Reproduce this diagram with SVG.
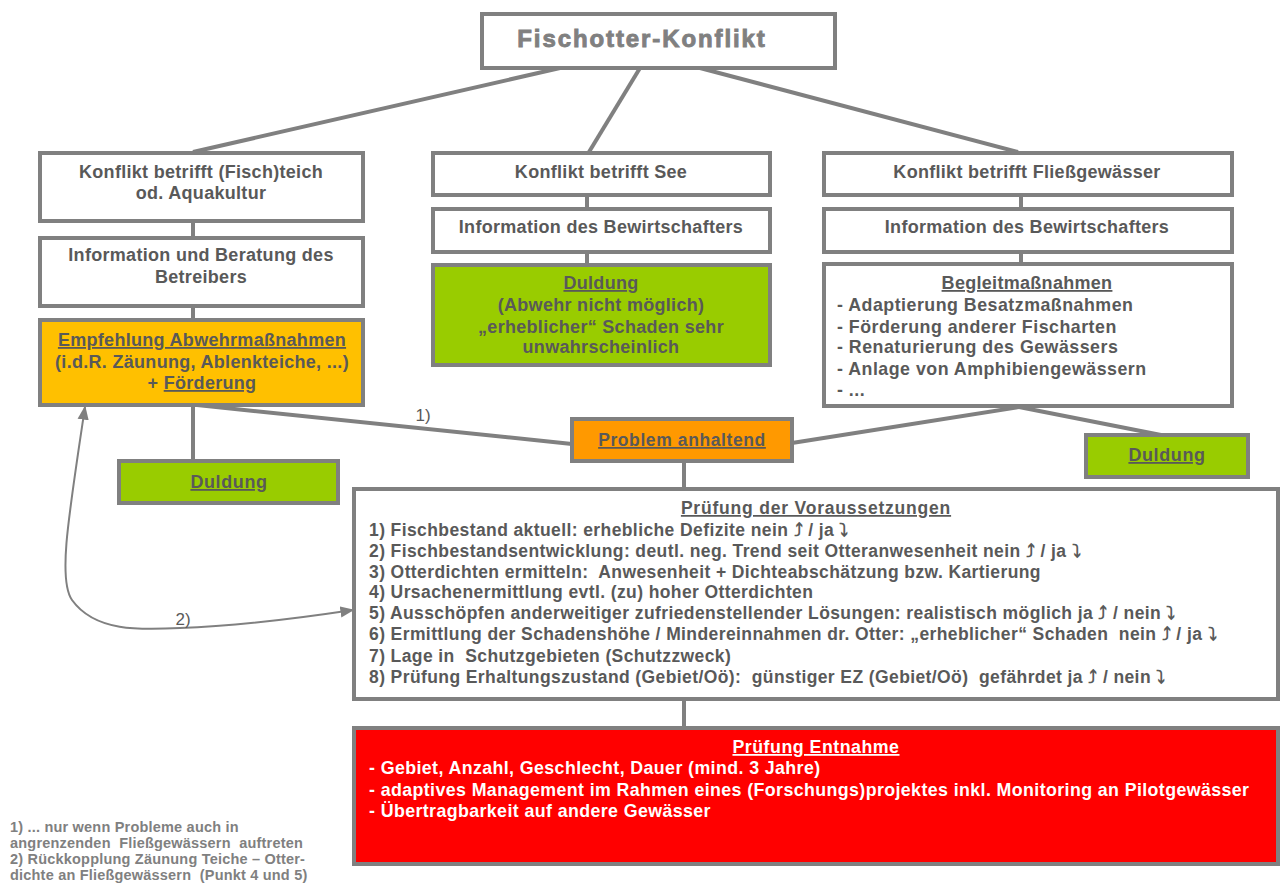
<svg xmlns="http://www.w3.org/2000/svg" width="1282" height="887" viewBox="0 0 1282 887">
<defs>
<style>
.box{stroke:#808080;stroke-width:4}
.w{fill:#ffffff}
.g{fill:#99cc00}
.y{fill:#ffc000}
.o{fill:#ff9900}
.r{fill:#ff0000}
text{font-family:"Liberation Sans",Arial,"DejaVu Sans",sans-serif;font-weight:bold;fill:#595959;white-space:pre}
.c{text-anchor:middle;font-size:18px;letter-spacing:0.3px}
.l{font-size:17.5px;letter-spacing:0.4px}
.bl{font-size:17.8px;letter-spacing:0.5px}
.rt{font-size:17.8px;letter-spacing:0.4px;fill:#ffffff}
.u{text-decoration:underline}
.con{stroke:#808080;stroke-width:4;fill:none}
.fn{font-size:14.5px;letter-spacing:0.2px;fill:#808080}
</style>
<marker id="ah2" viewBox="0 0 10 10" refX="9" refY="5" markerWidth="14" markerHeight="14" orient="auto-start-reverse" markerUnits="userSpaceOnUse">
<path d="M0,1 L10,5 L0,9 z" fill="#808080"/>
</marker>
</defs>

<g id="connectors">
<line class="con" x1="560" y1="68" x2="193" y2="152"/>
<line class="con" x1="640" y1="68" x2="589" y2="152"/>
<line class="con" x1="700" y1="68" x2="1018" y2="152"/>
<line class="con" x1="193" y1="222" x2="193" y2="237"/>
<line class="con" x1="193" y1="307" x2="193" y2="320"/>
<line class="con" x1="193" y1="405" x2="193" y2="461"/>
<line class="con" x1="587" y1="195" x2="587" y2="208"/>
<line class="con" x1="587" y1="252" x2="587" y2="264"/>
<line class="con" x1="1021" y1="195" x2="1021" y2="208"/>
<line class="con" x1="1021" y1="252" x2="1021" y2="263"/>
<line class="con" x1="197" y1="405" x2="572" y2="444"/>
<line class="con" x1="792" y1="443" x2="1019" y2="407"/>
<line class="con" x1="1019" y1="407" x2="1161" y2="435"/>
<line class="con" x1="684" y1="461" x2="684" y2="488"/>
<line class="con" x1="684" y1="699" x2="684" y2="727"/>
<path d="M85,407 C68,520 58,580 72,600 C95,632 140,630 180,628 C240,626 300,618 353,610" fill="none" stroke="#808080" stroke-width="2" marker-start="url(#ah2)" marker-end="url(#ah2)"/>
<text x="423" y="421" style="font-size:17px;font-weight:normal" text-anchor="middle">1)</text>
<text x="183" y="625" style="font-size:17px;font-weight:normal" text-anchor="middle">2)</text>
</g>

<g id="n-title">
<rect class="box w" x="482" y="14" width="353" height="54"/>
<text x="642" y="47" text-anchor="middle" style="font-size:24px;fill:#808080;stroke:#808080;stroke-width:0.9;letter-spacing:1.9px">Fischotter-Konflikt</text>
</g>

<g id="n-teich">
<rect class="box w" x="40" y="153" width="323" height="68"/>
<text class="c" x="201" y="178">Konflikt betrifft (Fisch)teich</text>
<text class="c" x="201" y="199">od. Aquakultur</text>
</g>

<g id="n-beratung">
<rect class="box w" x="40" y="238" width="323" height="68"/>
<text class="c" x="201" y="261">Information und Beratung des</text>
<text class="c" x="201" y="283">Betreibers</text>
</g>

<g id="n-empfehlung">
<rect class="box y" x="40" y="320" width="323" height="85"/>
<text class="c u" x="202" y="346">Empfehlung Abwehrmaßnahmen</text>
<text class="c" x="202" y="368">(i.d.R. Zäunung, Ablenkteiche, ...)</text>
<text class="c" x="202" y="389">+ <tspan class="u">Förderung</tspan></text>
</g>

<g id="n-duldung-links">
<rect class="box g" x="119" y="461" width="219" height="42"/>
<text class="c u" x="229" y="488" style="letter-spacing:0.6px">Duldung</text>
</g>

<g id="n-see">
<rect class="box w" x="433" y="153" width="337" height="42"/>
<text class="c" x="601" y="178">Konflikt betrifft See</text>
</g>

<g id="n-info-see">
<rect class="box w" x="433" y="209" width="337" height="43"/>
<text class="c" x="601" y="233">Information des Bewirtschafters</text>
</g>

<g id="n-duldung-see">
<rect class="box g" x="433" y="265" width="337" height="100"/>
<text class="c u" x="601" y="289">Duldung</text>
<text class="c" x="601" y="311">(Abwehr nicht möglich)</text>
<text class="c" x="601" y="333">„erheblicher“ Schaden sehr</text>
<text class="c" x="601" y="353">unwahrscheinlich</text>
</g>

<g id="n-fliess">
<rect class="box w" x="824" y="153" width="408" height="42"/>
<text class="c" x="1027" y="178">Konflikt betrifft Fließgewässer</text>
</g>

<g id="n-info-fliess">
<rect class="box w" x="824" y="209" width="408" height="43"/>
<text class="c" x="1027" y="233">Information des Bewirtschafters</text>
</g>

<g id="n-begleit">
<rect class="box w" x="824" y="264" width="408" height="142"/>
<text class="c u" x="1027" y="289">Begleitmaßnahmen</text>
<text class="bl" x="837" y="311">- Adaptierung Besatzmaßnahmen</text>
<text class="bl" x="837" y="333">- Förderung anderer Fischarten</text>
<text class="bl" x="837" y="353">- Renaturierung des Gewässers</text>
<text class="bl" x="837" y="375">- Anlage von Amphibiengewässern</text>
<text class="bl" x="837" y="396">- ...</text>
</g>

<g id="n-problem">
<rect class="box o" x="572" y="419" width="220" height="42"/>
<text class="c u" x="682" y="446" style="font-size:17.5px;letter-spacing:0.6px">Problem anhaltend</text>
</g>

<g id="n-duldung-rechts">
<rect class="box g" x="1086" y="435" width="162" height="42"/>
<text class="c u" x="1167" y="461" style="letter-spacing:0.6px">Duldung</text>
</g>

<g id="n-pruefung">
<rect class="box w" x="354" y="489" width="924" height="210"/>
<text class="c u" x="816" y="514" style="font-size:17.5px;letter-spacing:0.8px">Prüfung der Voraussetzungen</text>
<text class="l" x="369" y="536">1) Fischbestand aktuell: erhebliche Defizite nein ⤴ / ja ⤵</text>
<text class="l" x="369" y="557">2) Fischbestandsentwicklung: deutl. neg. Trend seit Otteranwesenheit nein ⤴ / ja ⤵</text>
<text class="l" x="369" y="578">3) Otterdichten ermitteln:  Anwesenheit + Dichteabschätzung bzw. Kartierung</text>
<text class="l" x="369" y="598">4) Ursachenermittlung evtl. (zu) hoher Otterdichten</text>
<text class="l" x="369" y="619">5) Ausschöpfen anderweitiger zufriedenstellender Lösungen: realistisch möglich ja ⤴ / nein ⤵</text>
<text class="l" x="369" y="640">6) Ermittlung der Schadenshöhe / Mindereinnahmen dr. Otter: „erheblicher“ Schaden  nein ⤴ / ja ⤵</text>
<text class="l" x="369" y="662">7) Lage in  Schutzgebieten (Schutzzweck)</text>
<text class="l" x="369" y="683">8) Prüfung Erhaltungszustand (Gebiet/Oö):  günstiger EZ (Gebiet/Oö)  gefährdet ja ⤴ / nein ⤵</text>
</g>

<g id="n-entnahme">
<rect class="box r" x="354" y="728" width="924" height="136"/>
<text class="rt u" x="816" y="753" text-anchor="middle" style="letter-spacing:0.5px">Prüfung Entnahme</text>
<text class="rt" x="369" y="774">- Gebiet, Anzahl, Geschlecht, Dauer (mind. 3 Jahre)</text>
<text class="rt" x="369" y="796">- adaptives Management im Rahmen eines (Forschungs)projektes inkl. Monitoring an Pilotgewässer</text>
<text class="rt" x="369" y="817">- Übertragbarkeit auf andere Gewässer</text>
</g>

<g id="footnotes">
<text class="fn" x="10" y="832">1) ... nur wenn Probleme auch in</text>
<text class="fn" x="10" y="848">angrenzenden  Fließgewässern  auftreten</text>
<text class="fn" x="10" y="864">2) Rückkopplung Zäunung Teiche – Otter-</text>
<text class="fn" x="10" y="880">dichte an Fließgewässern  (Punkt 4 und 5)</text>
</g>
</svg>
